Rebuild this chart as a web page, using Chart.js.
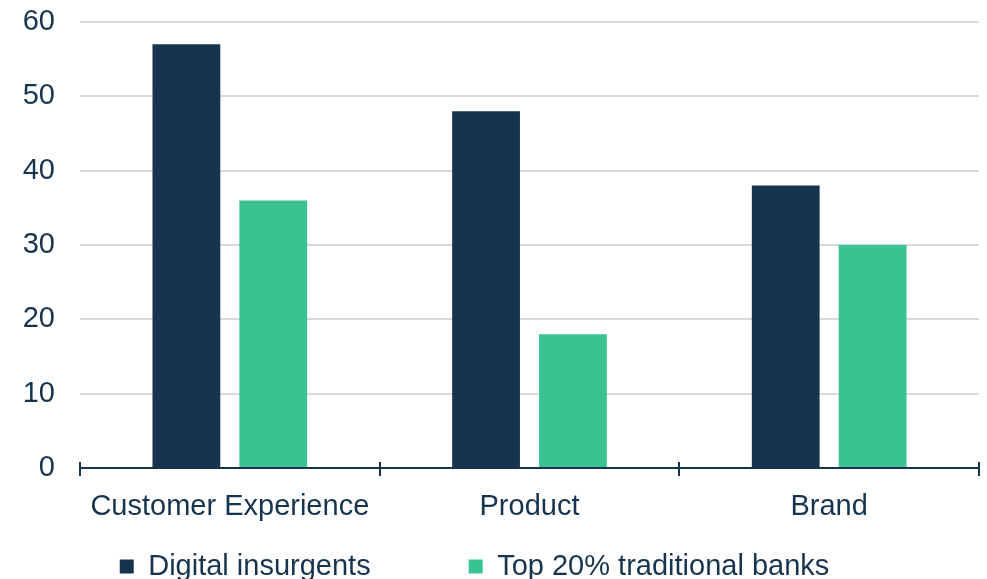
<title>Digital insurgents vs traditional banks</title>

<script src="https://cdn.jsdelivr.net/npm/chart.js@4/dist/chart.umd.min.js"></script>

<div id="wrap">
  <canvas id="barChart"></canvas>
</div>

<script>
  const categories = ["Customer Experience", "Product", "Brand"];
  const digitalInsurgents = [57, 48, 38];
  const topTraditionalBanks = [36, 18, 30];
  const yTicks = [0, 10, 20, 30, 40, 50, 60];

  const navy = "#17344f";
  const green = "#38c391";

  // legend placement + tick marks crossing the x axis line
  const crossTicks = {
    id: "crossTicks",
    afterLayout(chart) {
      const lg = chart.legend;
      const h = lg.bottom - lg.top;
      lg.top = chart.chartArea.bottom - 14;
      lg.bottom = lg.top + h;
      lg.left -= 15;
      lg.right -= 15;
    },
    afterDatasetsDraw(chart) {
      const x = chart.scales.x;
      const y0 = chart.scales.y.getPixelForValue(0);
      const c = chart.ctx;
      c.save();
      c.strokeStyle = navy;
      c.lineWidth = 2;
      for (let i = 0; i <= categories.length; i++) {
        const px = Math.round(x.getPixelForValue(i - 0.5));
        c.beginPath();
        c.moveTo(px, y0 - 6);
        c.lineTo(px, y0 + 8);
        c.stroke();
      }
      c.beginPath();
      c.moveTo(x.left, y0);
      c.lineTo(x.right, y0);
      c.stroke();
      c.restore();
    }
  };

  new Chart(document.getElementById("barChart"), {
    type: "bar",
    data: {
      labels: categories,
      datasets: [
        { label: "Digital insurgents", data: digitalInsurgents, backgroundColor: navy },
        { label: "Top 20% traditional banks", data: topTraditionalBanks, backgroundColor: green }
      ]
    },
    options: {
      responsive: true,
      maintainAspectRatio: false,
      animation: false,
      categoryPercentage: 0.58,
      barPercentage: 0.78,
      layout: { padding: { top: 22, right: 8, left: 0, bottom: 0 } },
      plugins: {
        tooltip: { enabled: false },
        legend: {
          position: "bottom",
          labels: {
            color: navy,
            font: { family: "Liberation Sans, Arial", size: 29 },
            boxWidth: 14,
            boxHeight: 14,
            padding: 98
          }
        }
      },
      scales: {
        x: {
          offset: true,
          grid: { display: false },
          border: { display: false },
          ticks: {
            color: navy,
            font: { family: "Liberation Sans, Arial", size: 29 },
            padding: 14
          },
          afterFit(s) {
            s.height = 60;
            s.paddingLeft = 0;
            s.paddingRight = 0;
          }
        },
        y: {
          min: 0,
          max: 60,
          afterBuildTicks(s) { s.ticks = yTicks.map(v => ({ value: v })); },
          grid: { color: "#d9d9d9", lineWidth: 2, drawTicks: false },
          border: { display: false },
          ticks: {
            color: navy,
            font: { family: "Liberation Sans, Arial", size: 29 },
            padding: 25
          },
          afterFit(s) {
            s.width = 80;
            s.paddingTop = 0;
            s.paddingBottom = 0;
          }
        }
      }
    },
    plugins: [crossTicks]
  });
</script>

<style>
  body {
    margin: 0;
    overflow: hidden;
    background: #fff;
  }
  #wrap {
    width: 987px;
    height: 665px;
  }
</style>
